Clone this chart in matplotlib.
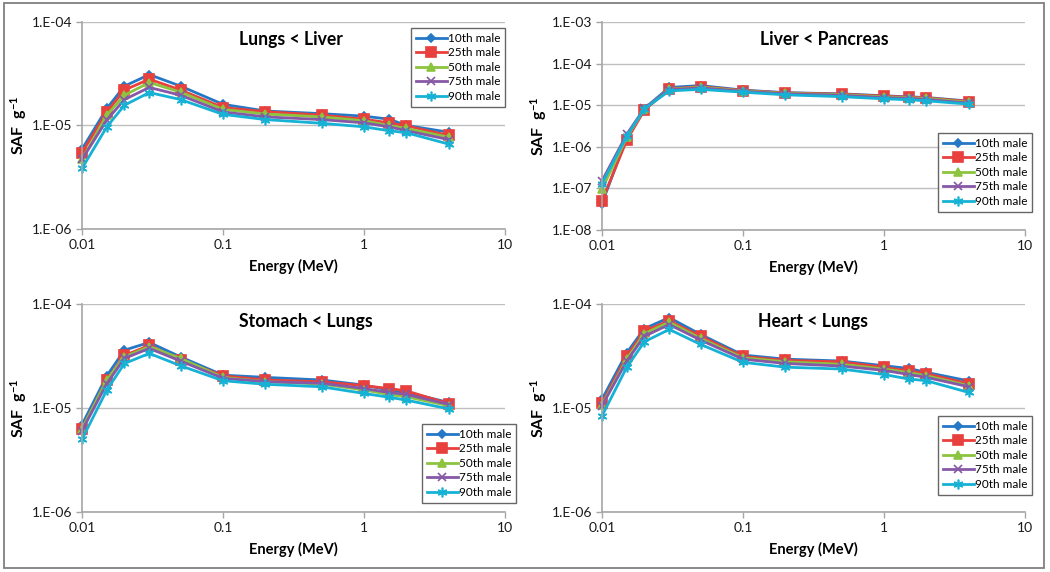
import numpy as np
import matplotlib
matplotlib.use('Agg')
import matplotlib.pyplot as plt
from matplotlib.ticker import FixedLocator, FuncFormatter, NullLocator
from matplotlib.patches import Rectangle

plt.rcParams['font.family'] = ['Lato', 'DejaVu Sans']
plt.rcParams['mathtext.default'] = 'regular'

# photon energies (MeV)
energy = [0.01, 0.015, 0.02, 0.03, 0.05, 0.1, 0.2, 0.5, 1, 1.5, 2, 4]
series_names = ['10th male', '25th male', '50th male', '75th male', '90th male']

# SAF values (g^-1)
lungs_liver_10 = [5.9e-6, 1.46e-5, 2.4e-5, 3.1e-5, 2.4e-5, 1.6e-5, 1.38e-5, 1.3e-5, 1.23e-5, 1.15e-5, 1.0e-5, 8.6e-6]
lungs_liver_25 = [5.45e-6, 1.35e-5, 2.2e-5, 2.8e-5, 2.2e-5, 1.49e-5, 1.36e-5, 1.26e-5, 1.15e-5, 1.06e-5, 9.9e-6, 8.0e-6]
lungs_liver_50 = [4.7e-6, 1.26e-5, 1.96e-5, 2.6e-5, 2.1e-5, 1.43e-5, 1.29e-5, 1.21e-5, 1.11e-5, 1.0e-5, 9.35e-6, 7.7e-6]
lungs_liver_75 = [4.7e-6, 1.13e-5, 1.78e-5, 2.33e-5, 1.96e-5, 1.35e-5, 1.21e-5, 1.14e-5, 1.06e-5, 9.7e-6, 8.9e-6, 7.3e-6]
lungs_liver_90 = [3.85e-6, 9.7e-6, 1.57e-5, 2.08e-5, 1.78e-5, 1.28e-5, 1.14e-5, 1.05e-5, 9.7e-6, 8.9e-6, 8.5e-6, 6.6e-6]

liver_pancreas_10 = [4.3e-8, 1.7e-6, 8.3e-6, 2.66e-5, 2.96e-5, 2.3e-5, 2.0e-5, 1.87e-5, 1.68e-5, 1.58e-5, 1.53e-5, 1.25e-5]
liver_pancreas_25 = [5.0e-8, 1.45e-6, 7.6e-6, 2.45e-5, 2.8e-5, 2.25e-5, 1.97e-5, 1.84e-5, 1.65e-5, 1.55e-5, 1.5e-5, 1.22e-5]
liver_pancreas_50 = [9.5e-8, 1.7e-6, 8.2e-6, 2.4e-5, 2.7e-5, 2.2e-5, 1.92e-5, 1.78e-5, 1.58e-5, 1.5e-5, 1.45e-5, 1.17e-5]
liver_pancreas_75 = [1.5e-7, 2.0e-6, 8.4e-6, 2.35e-5, 2.6e-5, 2.15e-5, 1.88e-5, 1.72e-5, 1.52e-5, 1.45e-5, 1.38e-5, 1.12e-5]
liver_pancreas_90 = [1.3e-7, 1.8e-6, 8.2e-6, 2.2e-5, 2.4e-5, 2.05e-5, 1.77e-5, 1.6e-5, 1.42e-5, 1.35e-5, 1.27e-5, 1.06e-5]

stomach_lungs_10 = [6.9e-6, 2.04e-5, 3.6e-5, 4.27e-5, 3.1e-5, 2.07e-5, 1.97e-5, 1.86e-5, 1.66e-5, 1.49e-5, 1.41e-5, 1.13e-5]
stomach_lungs_25 = [6.3e-6, 1.86e-5, 3.2e-5, 4.0e-5, 2.9e-5, 2.04e-5, 1.86e-5, 1.79e-5, 1.64e-5, 1.54e-5, 1.46e-5, 1.1e-5]
stomach_lungs_50 = [6.3e-6, 1.86e-5, 3.1e-5, 3.9e-5, 3.0e-5, 1.97e-5, 1.79e-5, 1.7e-5, 1.49e-5, 1.35e-5, 1.28e-5, 1.05e-5]
stomach_lungs_75 = [6.05e-6, 1.72e-5, 3.0e-5, 3.74e-5, 2.83e-5, 1.93e-5, 1.79e-5, 1.73e-5, 1.54e-5, 1.41e-5, 1.35e-5, 1.08e-5]
stomach_lungs_90 = [5.0e-6, 1.49e-5, 2.68e-5, 3.35e-5, 2.55e-5, 1.83e-5, 1.69e-5, 1.6e-5, 1.38e-5, 1.27e-5, 1.19e-5, 9.8e-6]

heart_lungs_10 = [1.21e-5, 3.4e-5, 5.8e-5, 7.4e-5, 5.1e-5, 3.23e-5, 2.95e-5, 2.83e-5, 2.55e-5, 2.4e-5, 2.2e-5, 1.82e-5]
heart_lungs_25 = [1.11e-5, 3.15e-5, 5.5e-5, 6.9e-5, 4.9e-5, 3.13e-5, 2.87e-5, 2.78e-5, 2.46e-5, 2.27e-5, 2.14e-5, 1.71e-5]
heart_lungs_50 = [1.07e-5, 2.95e-5, 5.2e-5, 6.7e-5, 4.67e-5, 3.04e-5, 2.78e-5, 2.63e-5, 2.37e-5, 2.19e-5, 2.04e-5, 1.64e-5]
heart_lungs_75 = [1.05e-5, 2.83e-5, 4.9e-5, 6.35e-5, 4.5e-5, 2.95e-5, 2.68e-5, 2.53e-5, 2.3e-5, 2.1e-5, 1.97e-5, 1.6e-5]
heart_lungs_90 = [8.4e-6, 2.47e-5, 4.34e-5, 5.7e-5, 4.09e-5, 2.75e-5, 2.47e-5, 2.37e-5, 2.1e-5, 1.9e-5, 1.83e-5, 1.41e-5]

colors = ['#2478C6', '#E8403C', '#8CC43F', '#8658A6', '#16B2D6']
markers = ['D', 's', '^', 'x', (6, 2, 0)]
msizes = [4.5, 6.5, 6, 6, 7]

panels = [
    ('Lungs < Liver', [lungs_liver_10, lungs_liver_25, lungs_liver_50, lungs_liver_75, lungs_liver_90],
     (1e-6, 1e-4), [0.0781, 0.5997, 0.4029, 0.3619], 0.494, (0.778, 0.971)),
    ('Liver < Pancreas', [liver_pancreas_10, liver_pancreas_25, liver_pancreas_50, liver_pancreas_75, liver_pancreas_90],
     (1e-8, 1e-3), [0.5733, 0.5980, 0.4029, 0.3636], 0.525, (0.795, 0.466)),
    ('Stomach < Lungs', [stomach_lungs_10, stomach_lungs_25, stomach_lungs_50, stomach_lungs_75, stomach_lungs_90],
     (1e-6, 1e-4), [0.0781, 0.1049, 0.4029, 0.3636], 0.530, (0.804, 0.423)),
    ('Heart < Lungs', [heart_lungs_10, heart_lungs_25, heart_lungs_50, heart_lungs_75, heart_lungs_90],
     (1e-6, 1e-4), [0.5733, 0.1049, 0.4029, 0.3636], 0.500, (0.795, 0.462)),
]

fig = plt.figure(figsize=(10.5, 5.72), dpi=100)
fig.patches.append(Rectangle((0.0035, 0.007), 0.9905, 0.9875, transform=fig.transFigure,
                             fill=False, edgecolor='#7f7f7f', linewidth=1.3))

ytick_fmt = FuncFormatter(lambda v, p: '1.E-%02d' % round(-np.log10(v)))
xtick_fmt = FuncFormatter(lambda v, p: '%g' % v)

for title, data, ylim, pos, tx, legpos in panels:
    ax = fig.add_axes(pos)
    for vals, name, c, m, ms in zip(data, series_names, colors, markers, msizes):
        ax.plot(energy, vals, color=c, lw=2, marker=m, ms=ms, mec=c, mew=1.2,
                label=name, clip_on=False)
    ax.set_xscale('log')
    ax.set_yscale('log')
    ax.set_xlim(0.01, 10)
    ax.set_ylim(*ylim)
    ax.xaxis.set_major_locator(FixedLocator([0.01, 0.1, 1, 10]))
    ax.xaxis.set_minor_locator(NullLocator())
    ax.xaxis.set_major_formatter(xtick_fmt)
    ydec = 10.0 ** np.arange(np.log10(ylim[0]), np.log10(ylim[1]) + 0.5)
    ax.yaxis.set_major_locator(FixedLocator(ydec))
    ax.yaxis.set_minor_locator(NullLocator())
    ax.yaxis.set_major_formatter(ytick_fmt)
    ax.grid(axis='y', color='#bfbfbf', lw=1)
    ax.set_axisbelow(True)
    for s in ['top', 'right']:
        ax.spines[s].set_visible(False)
    for s in ['left', 'bottom']:
        ax.spines[s].set_color('#a6a6a6')
        ax.spines[s].set_linewidth(1.2)
    ax.tick_params(length=4, width=1, color='#a6a6a6', labelsize=10, labelcolor='#1a1a1a', pad=3)
    ax.set_xlabel('Energy (MeV)', fontsize=10.5, fontweight='bold', labelpad=6)
    ax.set_ylabel('SAF  g$^{-1}$', fontsize=11.5, fontweight='bold')
    ax.yaxis.set_label_coords(-0.126, 0.5)
    ax.text(tx, 0.915, title, transform=ax.transAxes, ha='center', va='center',
            fontsize=12.7, fontweight='bold')
    leg = ax.legend(loc='upper left', bbox_to_anchor=legpos, fontsize=8.5, frameon=True,
                    fancybox=False, edgecolor='#404040', handlelength=2.6,
                    handletextpad=0.1, borderpad=0.4, labelspacing=0.3, borderaxespad=0)
    leg.get_frame().set_linewidth(1.0)

fig.savefig('out.png', dpi=100)
